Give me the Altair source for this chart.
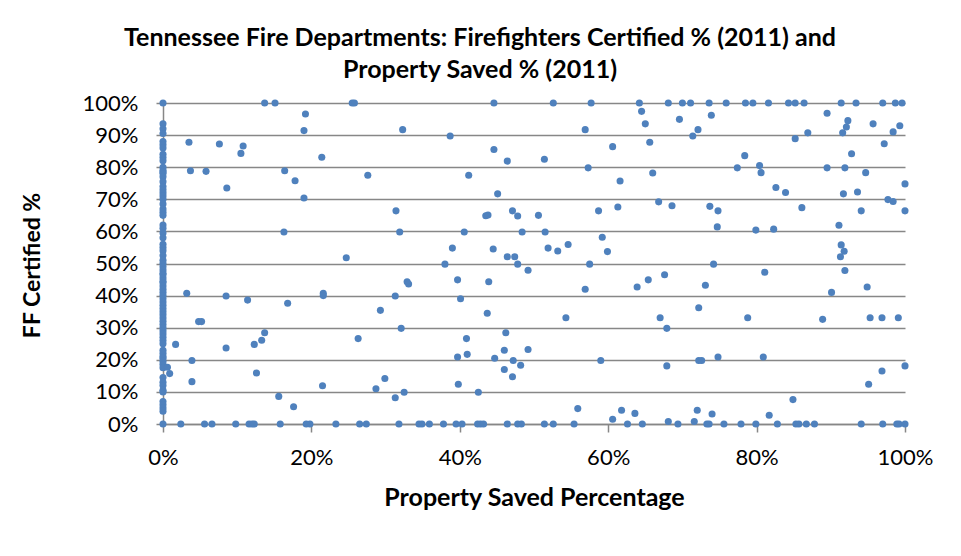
import altair as alt
import pandas as pd

# Departments with 0% property saved (x = 0): FF certified %
col0_cert = [100, 93.5, 92, 90.5, 88, 87, 86, 84, 83, 82, 80, 79, 78.5, 78, 77, 75.5,
             74, 73, 72, 71, 70, 68.5, 67, 66, 65, 62, 61, 59.5, 58, 56, 55, 54, 52.5,
             51, 50, 49, 48, 47, 46.5, 45.5, 44.5, 44, 43, 42, 41, 40, 39, 38, 37, 36,
             35, 34, 33, 32, 31, 30, 29, 28, 27, 26, 25, 23, 22, 21, 20.5, 19.5, 18.5,
             17.5, 14.5, 13, 12, 10.5, 10, 7, 6, 5, 4, 0]

# Departments with 0% certified (y = 0): property saved %
row0_saved = [2.4, 5.6, 6.6, 9.8, 11.6, 12.0, 12.3, 15.8, 19.3, 19.8, 23.3,
              26.5, 27.4, 31.8, 34.5, 34.9, 35.9, 37.8, 39.5, 40.3, 42.4, 42.8, 43.2,
              46.4, 47.8, 48.3, 51.4, 52.6, 55.4, 62.6, 64.6, 69.4, 73.3, 73.6,
              75.6, 77.9, 79.9, 82.8, 85.3, 85.7, 86.7, 87.8, 94.1, 97.0, 98.9, 99.2, 100]

# Departments with 100% certified (y = 100): property saved %
row100_saved = [13.7, 15.1, 25.5, 25.8, 44.6, 52.6, 57.7, 64.2, 68.1, 70.0, 71.1, 73.6,
                75.9, 78.5, 79.5, 81.6, 84.3, 85.2, 86.4, 91.4, 93.4, 97.0, 98.7, 99.6]

# All other departments
other_saved = [0.6, 0.9, 19.2, 19.0, 3.5, 7.6, 10.8, 10.5, 21.4, 3.7, 5.8, 16.4, 17.8, 8.6, 19.0, 16.3,
               3.2, 8.5, 11.4, 16.8, 21.6, 21.6, 4.8, 5.2, 13.7, 13.3, 12.3, 1.7, 8.5, 3.9, 12.6,
               3.9, 21.5, 15.6, 17.6,
               32.3, 38.7, 44.6, 46.4, 27.6, 41.2, 45.1, 31.4, 43.5, 43.8, 47.1, 47.8, 31.9, 40.6,
               48.4, 39.0, 44.5, 46.4, 47.4, 24.7,
               38.0, 47.8, 49.2, 39.7, 43.9, 32.9, 33.1, 31.3, 40.1, 29.3, 43.7, 32.1, 26.3, 40.9,
               46.2, 46.0, 49.2, 41.0, 39.7, 44.7, 47.2, 48.2, 46.0, 47.1, 29.9, 28.7, 32.5, 31.3,
               39.8, 42.5,
               64.5, 73.9, 69.6, 65.0, 56.9, 72.1, 71.4, 65.6, 60.6, 51.4, 57.3, 66.0, 61.6, 66.8,
               68.6, 73.7, 61.3, 58.7, 50.6, 74.8, 51.5, 74.7, 59.2, 54.6, 51.9, 53.2, 59.9,
               57.5, 74.2, 67.6, 65.4, 63.9, 73.1, 56.9, 72.2, 54.3, 67.0, 67.9, 59.0, 72.2, 72.6,
               74.8, 67.9, 55.9, 61.8, 63.6, 60.6, 72.0, 74.0, 68.1, 71.6,
               89.5, 92.3, 92.1, 91.6, 95.7, 99.3, 98.4, 86.9, 85.2, 97.2, 78.4, 92.8, 77.4, 80.4,
               80.6, 89.5, 91.9, 94.7, 82.6, 83.9, 100, 91.7, 93.6, 97.7, 98.4, 86.1, 94.1, 100,
               79.9, 82.3, 91.1, 91.4, 91.8, 91.3,
               81.1, 91.9, 94.9, 90.1, 78.8, 88.9, 95.3, 96.9, 99.1, 80.9, 100, 96.9, 95.1, 84.9, 81.7]
other_cert = [17.7, 15.7, 96.6, 91.4, 87.8, 87.2, 86.6, 84.3, 83.1, 78.9, 78.7, 78.9, 75.8, 73.5, 70.4, 59.8,
              40.7, 39.9, 38.6, 37.6, 40.7, 40.0, 31.9, 31.9, 28.4, 26.1, 24.8, 24.8, 23.7, 19.8, 15.9,
              13.2, 11.9, 8.6, 5.4,
              91.7, 89.7, 85.5, 81.9, 77.5, 77.5, 71.7, 66.4, 64.9, 65.1, 66.4, 64.8, 59.8, 59.8,
              59.8, 54.8, 54.5, 52.1, 52.1, 51.8,
              49.8, 49.8, 47.9, 44.9, 44.3, 44.3, 43.6, 39.9, 39.0, 35.4, 34.5, 29.8, 26.6, 26.6,
              28.4, 23.0, 23.2, 21.7, 20.9, 20.5, 19.8, 18.3, 17.0, 14.7, 14.2, 11.0, 9.9, 8.2,
              12.4, 9.9,
              97.4, 96.2, 94.9, 93.5, 91.7, 91.7, 89.7, 87.8, 86.4, 82.5, 79.8, 78.2, 75.7, 69.2,
              68.0, 67.8, 67.6, 66.4, 65.0, 66.4, 59.8, 61.4, 58.2, 55.9, 54.8, 53.9, 53.7,
              49.8, 49.8, 46.5, 44.9, 42.7, 43.2, 42.0, 36.2, 33.1, 33.1, 29.8, 19.8, 19.8, 19.8,
              20.9, 18.1, 4.8, 4.3, 3.3, 1.5, 4.3, 3.1, 0.8, 0.8,
              96.8, 94.5, 92.5, 90.7, 93.5, 92.9, 91.0, 90.7, 88.9, 87.3, 83.6, 84.2, 79.8, 80.5,
              78.3, 79.8, 79.8, 78.3, 73.7, 72.1, 74.8, 71.7, 72.3, 69.9, 69.3, 67.4, 66.4, 66.4,
              60.4, 60.7, 61.9, 55.8, 53.8, 52.1,
              47.3, 47.8, 42.7, 41.0, 33.1, 32.6, 33.1, 33.1, 33.1, 20.9, 18.1, 16.5, 12.4, 7.6, 2.7]

x_ticks = [0, 20, 40, 60, 80, 100]
y_ticks = [0, 10, 20, 30, 40, 50, 60, 70, 80, 90, 100]

saved = [0.0] * len(col0_cert) + row0_saved + row100_saved + other_saved
cert = col0_cert + [0.0] * len(row0_saved) + [100.0] * len(row100_saved) + other_cert
df = pd.DataFrame({"saved": saved, "cert": cert})

grid_gray = "#878787"

chart = alt.Chart(df).mark_circle(size=50, color="#4F81BD", opacity=1).encode(
    x=alt.X("saved:Q",
            scale=alt.Scale(domain=[0, 100], nice=False, zero=False),
            axis=alt.Axis(values=x_ticks, labelExpr="datum.value + '%'", grid=False,
                          labelFlush=False,
                          title="Property Saved Percentage", titleFontSize=25,
                          tickSize=8, labelPadding=15,
                          titleY=73, titleBaseline="middle")),
    y=alt.Y("cert:Q",
            scale=alt.Scale(domain=[0, 100], nice=False, zero=False),
            axis=alt.Axis(values=y_ticks, labelExpr="datum.value + '%'", grid=True,
                          labelFlush=False,
                          title="FF Certified %", titleFontSize=23,
                          tickSize=7, labelPadding=18,
                          titleX=-131, titleY=162, titleBaseline="middle")),
).properties(
    width=742,
    height=321,
    autosize="none",
    background="white",
    padding={"left": 155, "top": 95, "right": 48, "bottom": 124},
    title=alt.Title(
        text=["Tennessee Fire Departments: Firefighters Certified % (2011) and",
              "Property Saved % (2011)"],
        font="Lato", fontSize=25, fontWeight="bold", color="black",
        anchor="middle", dx=-54, dy=38, offset=22, lineHeight=32, baseline="bottom"),
).configure_view(
    stroke=None
).configure_axis(
    domainColor=grid_gray, domainWidth=1.5,
    tickColor=grid_gray, tickWidth=1.5,
    gridColor=grid_gray, gridWidth=1.5,
    labelFont="Lato", labelFontSize=22, labelColor="black",
    titleFont="Lato", titleFontWeight="bold", titleColor="black",
)

chart.save("out.html", embed_options={"renderer": "svg", "actions": False})
